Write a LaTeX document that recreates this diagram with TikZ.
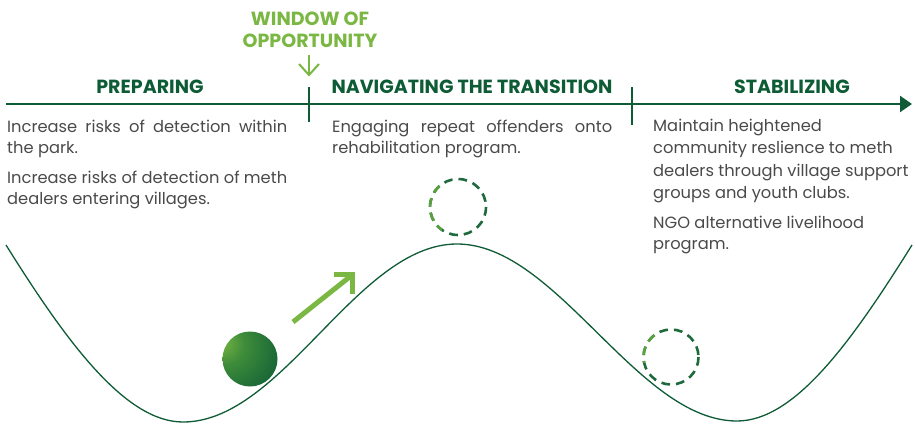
\documentclass[tikz,border=0pt]{standalone}
\usepackage{fontspec}
\setmainfont{Poppins}
\usetikzlibrary{arrows.meta}
\definecolor{dkgreen}{HTML}{0E5C36}
\definecolor{ltgreen}{HTML}{7AB743}
\definecolor{midgreen}{HTML}{3E8C3A}
\definecolor{dashgreen}{HTML}{1F6A3C}
\definecolor{dashlight}{HTML}{5AA03E}
\definecolor{txtgrey}{HTML}{4A4A4A}
\pgfdeclareradialshading{ballshade}{\pgfpoint{-28bp}{16bp}}{%
  color(0bp)=(ltgreen); color(18bp)=(midgreen); color(50bp)=(dkgreen); color(100bp)=(dkgreen)}
\newlength\fitlen
\newcommand\fitsize[3]{%
  \settowidth\fitlen{\normalfont\fontsize{10}{12}\selectfont #3}%
  \pgfmathsetmacro#1{10*#2/\fitlen}%
  \global\let#1#1}
\AtBeginDocument{%
  \fitsize{\headsize}{281}{\bfseries NAVIGATING THE TRANSITION}%
  \fitsize{\bodysizeA}{280}{Increase risks of detection of meth}%
  \fitsize{\bodysizeB}{257}{dealers through village support}%
  \pgfmathsetmacro\bodysize{min(\bodysizeA,\bodysizeB)}%
  \global\let\bodysize\bodysize}
\begin{document}
\begin{tikzpicture}[x=1pt,y=-1pt,
  heading/.style={font=\bfseries\fontsize{\headsize}{16}\selectfont, text=dkgreen, inner sep=0pt, anchor=base},
  window/.style={font=\bfseries\fontsize{\headsize}{16}\selectfont, text=ltgreen, inner sep=0pt, anchor=base},
  body/.style={font=\fontsize{\bodysize}{21}\selectfont, text=txtgrey, inner sep=0pt, anchor=base west},
  axisline/.style={dkgreen, line width=2.2pt},
  hill/.style={dkgreen, line width=1.3pt},
  ghost/.style={dashgreen, line width=2.6pt, dash pattern=on 8.7pt off 6pt},
  push/.style={ltgreen, line width=5pt}]
\useasboundingbox (0,0) rectangle (915,423);

% axis
\coordinate (axL) at (6,104);
\coordinate (axR) at (912,104);
\draw[axisline, -{Triangle[length=12pt,width=16pt]}] (axL) -- (axR);
\coordinate (t1a) at (309,87); \coordinate (t1b) at (309,122);
\coordinate (t2a) at (632,87); \coordinate (t2b) at (632,125);
\draw[axisline] (t1a) -- (t1b);
\draw[axisline] (t2a) -- (t2b);

% headings
\node[heading] (prep) at (150,93) {PREPARING};
\node[heading] (nav) at (472,93) {NAVIGATING THE TRANSITION};
\node[heading] (stab) at (792,93) {STABILIZING};
\node[window] (win1) at (310,25) {WINDOW OF};
\node[window] (win2) at (310,47) {OPPORTUNITY};

% window arrow
\coordinate (wa) at (309,55);
\coordinate (wb) at (309,75);
\draw[ltgreen, line width=2pt] (wa) -- (wb);
\draw[ltgreen, line width=2pt, line join=miter] (299,64) -- (wb) -- (319,64);

% texts: preparing
\node[body] (p1a) at (7,132) {\makebox[280pt][s]{Increase risks of detection within}};
\node[body] (p1b) at (7,153) {the park.};
\node[body] (p2a) at (7,183) {\makebox[280pt][s]{Increase risks of detection of meth}};
\node[body] (p2b) at (7,204) {dealers entering villages.};
% texts: navigating
\node[body] (n1a) at (332,132) {\makebox[280pt][s]{Engaging repeat offenders onto}};
\node[body] (n1b) at (332,153) {rehabilitation program.};
% texts: stabilizing
\node[body] (s1a) at (653,131) {Maintain heightened};
\node[body] (s1b) at (653,153) {community reslience to meth};
\node[body] (s1c) at (653,176) {dealers through village support};
\node[body] (s1d) at (653,198) {groups and youth clubs.};
\node[body] (s2a) at (653,228) {NGO alternative livelihood};
\node[body] (s2b) at (653,249) {program.};

% hill curve
\coordinate (c0) at (6,245);
\coordinate (m1) at (183,422);
\coordinate (pk) at (457,244);
\coordinate (m2) at (737,421);
\coordinate (c1) at (912,245);
\draw[hill] (c0) .. controls (66,341) and (125,422) .. (m1)
  .. controls (283,422) and (357,244) .. (pk)
  .. controls (557,244) and (637,421) .. (m2)
  .. controls (795,421) and (852,341) .. (c1);

% ball
\coordinate (ball) at (250,359);
\shade[shading=ballshade] (ball) circle (27.5);

% push arrow
\coordinate (pa) at (293,322);
\coordinate (pb) at (352,275);
\draw[push] (pa) -- (pb);
\draw[push, line join=miter] (334,274.5) -- (352,274.5) -- (352,294);

% ghost circles
\coordinate (g1) at (458,207);
\coordinate (g2) at (671,357);
\draw[ghost] (g1) circle (28);
\draw[ghost] (g2) circle (27.5);
\begin{scope}
  \clip (420,170) rectangle (442,230);
  \draw[ghost, dashlight] (g1) circle (28);
\end{scope}
\begin{scope}
  \clip (635,320) rectangle (656,362);
  \draw[ghost, dashlight] (g2) circle (27.5);
\end{scope}
\end{tikzpicture}
\end{document}
